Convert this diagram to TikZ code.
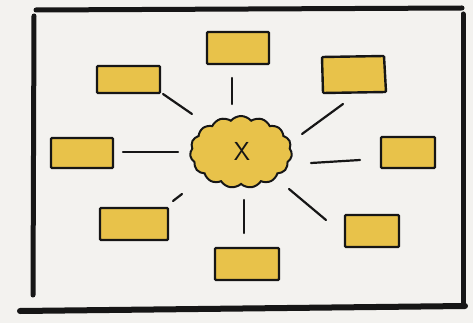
\documentclass[tikz,border=0pt]{standalone}
\usetikzlibrary{shapes.symbols}
\definecolor{paper}{HTML}{F3F2EF}
\definecolor{ink}{HTML}{161616}
\definecolor{gold}{HTML}{E8C24A}
\begin{document}
\begin{tikzpicture}[x=1pt,y=-1pt,
  framepen/.style={ink,line width=5pt,line cap=round},
  card/.style={draw=ink,fill=gold,line width=2.4pt,rounded corners=1pt},
  link/.style={ink,line width=2.2pt,line cap=round}]
\fill[paper] (0,0) rectangle (473,323);
\useasboundingbox (0,0) rectangle (473,323);
% frame
\coordinate (ftl) at (36,10);
\coordinate (ftr) at (462,8);
\coordinate (flb) at (33,295);
\coordinate (frb) at (463,305);
\coordinate (fbl) at (20,311);
\coordinate (fbr) at (465,306);
\draw[framepen] (ftl) -- (ftr);
\draw[framepen] (34,16) -- (flb);
\draw[framepen] (463,14) -- (frb);
\draw[framepen,line width=6pt] (fbl) -- (fbr);
% cards
\path[card] (207,32) rectangle (269,64) node[midway] (n1) {};
\path[card] (97,66) rectangle (160,93) node[midway] (n2) {};
\path[card] (322,57) -- (384,56) -- (386,92) -- (323,93) -- cycle;
\node (n3) at (354,75) {};
\path[card] (51,138) rectangle (113,168) node[midway] (n4) {};
\path[card] (381,137) rectangle (435,168) node[midway] (n5) {};
\path[card] (100,208) rectangle (168,240) node[midway] (n6) {};
\path[card] (215,248) rectangle (279,280) node[midway] (n7) {};
\path[card] (345,215) rectangle (399,247) node[midway] (n8) {};
% cloud
\node[cloud,cloud puffs=15,cloud puff arc=100,aspect=1.45,draw=ink,fill=gold,
  line width=2pt,minimum width=102pt,minimum height=72pt,inner sep=0pt]
  (c) at (241,152) {};
\node[ink,font=\fontsize{26}{26}\selectfont\sffamily] (x) at (242,151) {X};
% link ends
\coordinate (a1) at (232,78);  \coordinate (b1) at (232,104);
\coordinate (a2) at (163,94);  \coordinate (b2) at (192,114);
\coordinate (a3) at (343,104); \coordinate (b3) at (302,134);
\coordinate (a4) at (123,152); \coordinate (b4) at (178,152);
\coordinate (a5) at (360,160); \coordinate (b5) at (311,163);
\coordinate (a6) at (173,201); \coordinate (b6) at (182,194);
\coordinate (a7) at (244,233); \coordinate (b7) at (244,200);
\coordinate (a8) at (326,220); \coordinate (b8) at (289,189);
\foreach \i in {1,...,8} {\draw[link] (a\i) -- (b\i);}
\end{tikzpicture}
\end{document}
